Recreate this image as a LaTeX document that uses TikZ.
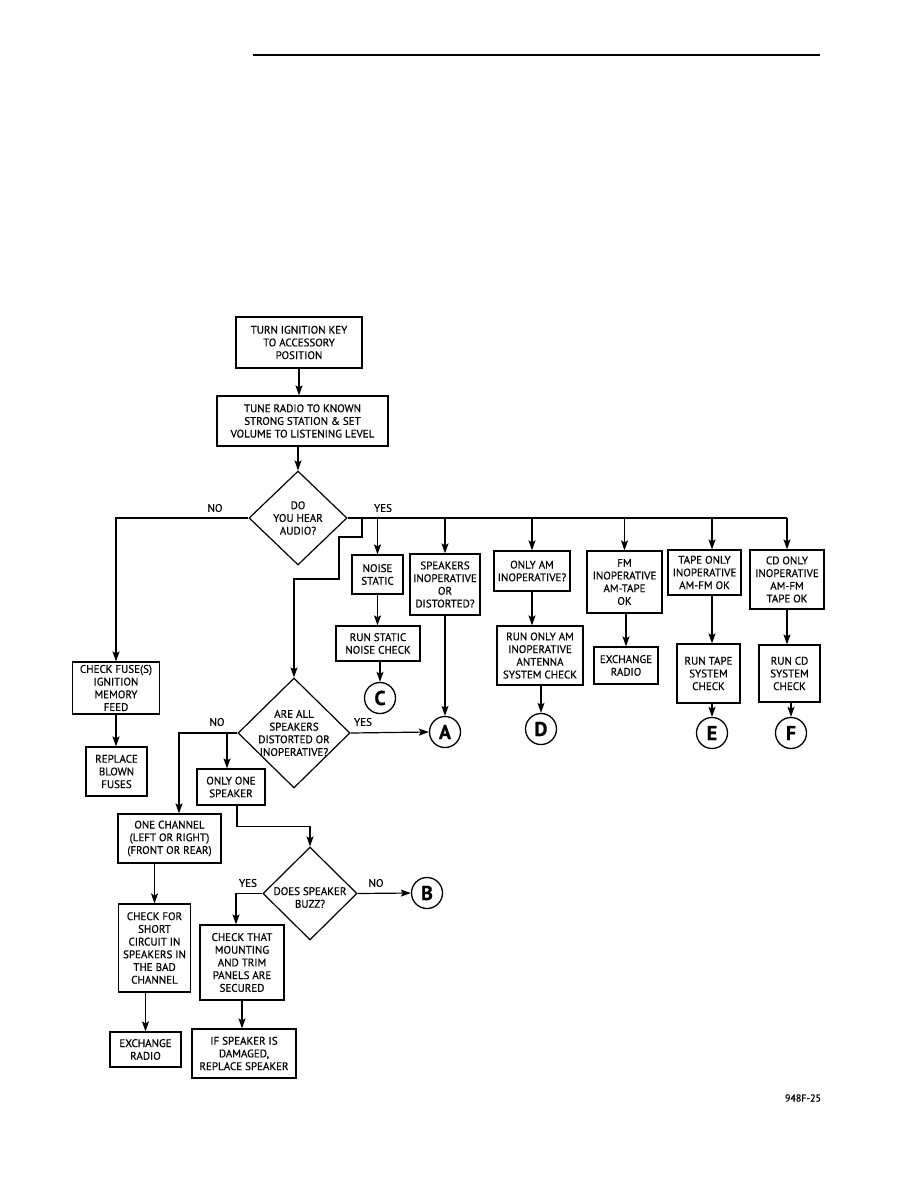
\documentclass[tikz,border=0pt]{standalone}
\usepackage{fontspec}
\setmainfont{PT Sans}[FakeBold=0.5]
\usetikzlibrary{shapes.geometric,arrows.meta}

\newcommand{\chartfont}{\fontsize{11}{12.7}\selectfont}
\tikzset{
  box/.style={draw, line width=1.2pt, align=center, inner sep=1pt, font=\chartfont},
  sz/.style 2 args={minimum width=#1pt, minimum height=#2pt},
  decision/.style={draw, diamond, line width=1.2pt, inner sep=0pt},
  conn/.style={draw, circle, line width=1.3pt, inner sep=0pt, minimum size=31pt,
    font=\fontsize{20}{20}\selectfont\bfseries},
  arr/.style={line width=1.2pt, -{Stealth[length=10pt,width=7pt,inset=2pt]}},
  wire/.style={line width=1.2pt},
  tag/.style={font=\chartfont, inner sep=0pt},
}

\begin{document}
\begin{tikzpicture}[x=1pt, y=-1pt]
\useasboundingbox (0,0) rectangle (918,1188);
\draw[line width=2.2pt] (253,55) -- (820,55);

% start
\node[box, sz={126}{51}] (key) at (299,342.5) {TURN IGNITION KEY\\TO ACCESSORY\\POSITION};
\node[box, sz={171}{50}] (tune) at (302.5,421) {TUNE RADIO TO KNOWN\\STRONG STATION \& SET\\VOLUME TO LISTENING LEVEL};
\node[decision, sz={98}{94}, label={[tag,align=center]center:{DO\\YOU HEAR\\AUDIO?}}] (audio) at (298,518) {};

% no audio
\node[box, sz={87}{52}] (fuse) at (116,688) {CHECK FUSE(S)\\IGNITION\\MEMORY\\FEED};
\node[box, sz={61}{49}] (blown) at (116.5,771.5) {REPLACE\\BLOWN\\FUSES};

% audio heard
\node[box, sz={51}{39}] (noise) at (377.5,574.5) {NOISE\\STATIC};
\node[box, sz={84}{35}] (static) at (378,643.5) {RUN STATIC\\NOISE CHECK};
\node[conn] (C) at (380,698) {C};
\node[box, sz={70}{61}] (spkbox) at (445,584.5) {SPEAKERS\\INOPERATIVE\\OR\\DISTORTED?};
\node[conn] (A) at (445,732) {A};
\node[box, sz={76}{40}] (amonly) at (532,571) {ONLY AM\\INOPERATIVE?};
\node[box, sz={86}{59}] (amcheck) at (540,655.5) {RUN ONLY AM\\INOPERATIVE\\ANTENNA\\SYSTEM CHECK};
\node[conn] (D) at (541,729) {D};
\node[box, sz={75}{62}] (fm) at (624.5,582) {FM\\INOPERATIVE\\AM-TAPE\\OK};
\node[box, sz={64}{37}] (fmradio) at (626,665.5) {EXCHANGE\\RADIO};
\node[box, sz={73}{45}] (tape) at (704.5,572.5) {TAPE ONLY\\INOPERATIVE\\AM-FM OK};
\node[box, sz={63}{59}] (tapecheck) at (708.5,673.5) {RUN TAPE\\SYSTEM\\CHECK};
\node[conn] (E) at (712,733) {E};
\node[box, sz={74}{59}] (cd) at (787,579.5) {CD ONLY\\INOPERATIVE\\AM-FM\\TAPE OK};
\node[box, sz={61}{57}] (cdcheck) at (789.5,673.5) {RUN CD\\SYSTEM\\CHECK};
\node[conn] (F) at (791,733) {F};

% speakers
\node[decision, sz={112}{110}, label={[tag,align=center]center:{ARE ALL\\SPEAKERS\\DISTORTED OR\\INOPERATIVE?}}] (allspk) at (294,733) {};
\node[box, sz={68}{36}] (oneone) at (231,787) {ONLY ONE\\SPEAKER};
\node[box, sz={103}{49}] (channel) at (169.5,838.5) {ONE CHANNEL\\(LEFT OR RIGHT)\\(FRONT OR REAR)};
\node[box, sz={72}{88}] (short) at (154.5,948) {CHECK FOR\\SHORT\\CIRCUIT IN\\SPEAKERS IN\\THE BAD\\CHANNEL};
\node[box, sz={71}{35}] (chexch) at (145.5,1049.5) {EXCHANGE\\RADIO};
\node[decision, sz={94}{93}, label={[tag,align=center,yshift=-4pt]center:{DOES SPEAKER\\BUZZ?}}] (buzz) at (310,893.5) {};
\node[conn] (B) at (427,893) {B};
\node[box, sz={84}{75}] (mount) at (242,962.5) {CHECK THAT\\MOUNTING\\AND TRIM\\PANELS ARE\\SECURED};
\node[box, sz={104}{49}] (damaged) at (244,1053.5) {IF SPEAKER IS\\DAMAGED,\\REPLACE SPEAKER};

\node[tag, font=\fontsize{10}{11}\selectfont] (figno) at (803,1098) {948F-25};

% labels
\node[tag] (no1) at (215,508) {NO};
\node[tag] (yes1) at (383,508) {YES};
\node[tag] (no2) at (217,722) {NO};
\node[tag] (yes2) at (363,722) {YES};
\node[tag] (yes3) at (248,883) {YES};
\node[tag] (no3) at (376,883) {NO};

% connectors
\draw[arr] (key.south) -- (key.south |- tune.north);
\draw[arr] (audio.north |- tune.south) -- (audio.north);
\draw[arr] (audio.west) -| (fuse.north);
\draw[arr] (fuse.south) -- (fuse.south |- blown.north);
\draw[wire] (audio.east) -- (cd.north |- audio.east);
\foreach \br in {noise, spkbox, amonly, fm, cd}
  \draw[arr] (\br.north |- audio.east) -- (\br.north);
\draw[arr] (E |- audio.east) -- (E |- tape.north);
\draw[arr] (noise.south) -- (noise.south |- static.north);
\draw[arr] (static.south -| C) -- (C.north);
\draw[arr] (spkbox.south) -- (A.north);
\draw[arr] (amonly.south) -- (amonly.south |- amcheck.north);
\draw[arr] (amcheck.south -| D) -- (D.north);
\draw[arr] (fm.south -| fmradio) -- (fmradio.north);
\draw[arr] (E |- tape.south) -- (E |- tapecheck.north);
\draw[arr] (tapecheck.south -| E) -- (E.north);
\draw[arr] (cd.south) -- (cd.south |- cdcheck.north);
\draw[arr] (cdcheck.south -| F) -- (F.north);

\coordinate (split) at (362,518);
\draw[arr] (split) |- (339,537) |- (allspk.north |- 0,579) -- (allspk.north);
\draw[arr] (allspk.east) -- (A.west);
\draw[arr] (allspk.west) -| ([xshift=9.5pt]channel.north);
\draw[arr] ([xshift=-4pt]oneone.north |- allspk.west) -- ([xshift=-4pt]oneone.north);
\draw[arr] ([xshift=6pt]oneone.south) -- ++(0,21) -| (buzz.north);
\draw[arr] (short.north |- channel.south) -- (short.north);
\draw[arr] (short.south -| chexch) -- (chexch.north);
\draw[arr] (buzz.west) -| ([xshift=-6pt]mount.north);
\draw[arr] (buzz.east) -- (B.west);
\draw[arr] (mount.south) -- (mount.south |- damaged.north);
\end{tikzpicture}
\end{document}
